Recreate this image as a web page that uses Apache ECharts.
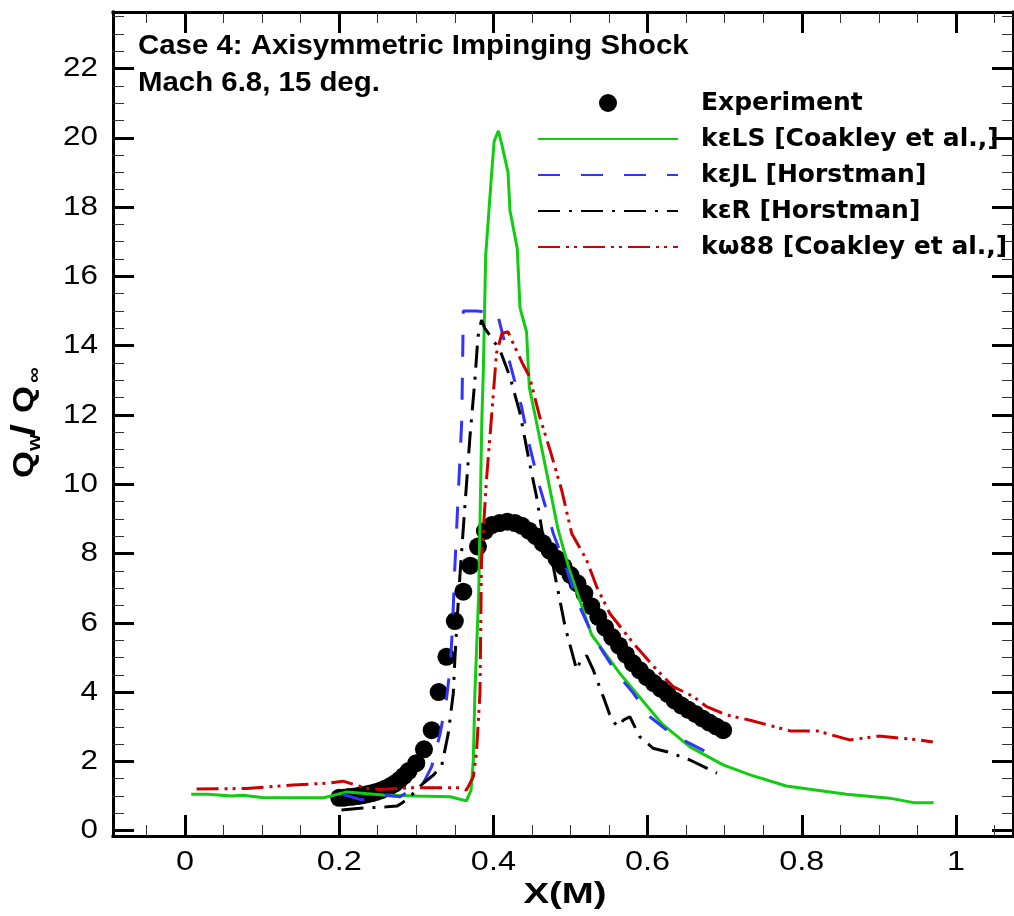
<!DOCTYPE html>
<html>
<head>
<meta charset="utf-8">
<script src="https://cdn.jsdelivr.net/npm/echarts@6/dist/echarts.min.js"></script>
<style>
  html, body { margin: 0; padding: 0; background: #fff; }
  #chart { width: 1014px; height: 916px; }
</style>
</head>
<body>
<div id="chart"></div>
<script>
// Axis ticks and labels
const xMajorTicks = [0, 0.2, 0.4, 0.6, 0.8, 1];
const xTickLabels = ['0', '0.2', '0.4', '0.6', '0.8', '1'];
const xMinorTicks = [-0.05, 0.05, 0.1, 0.15, 0.25, 0.3, 0.35, 0.45, 0.5, 0.55, 0.65, 0.7, 0.75, 0.85, 0.9, 0.95, 1.05];
const yMajorTicks = [0, 2, 4, 6, 8, 10, 12, 14, 16, 18, 20, 22];
const yTickLabels = ['0', '2', '4', '6', '8', '10', '12', '14', '16', '18', '20', '22'];
const yMinorTicks = [0.5, 1, 1.5, 2.5, 3, 3.5, 4.5, 5, 5.5, 6.5, 7, 7.5, 8.5, 9, 9.5, 10.5, 11, 11.5,
  12.5, 13, 13.5, 14.5, 15, 15.5, 16.5, 17, 17.5, 18.5, 19, 19.5, 20.5, 21, 21.5, 22.5, 23, 23.5];

// Series names
const seriesNames = ['Experiment', 'kεLS [Coakley et al.,]', 'kεJL [Horstman]', 'kεR [Horstman]', 'kω88 [Coakley et al.,]'];

// Measured wall heat flux ratio, [x (m), Qw/Qinf]
const experiment = [
  [0.200, 0.95], [0.206, 0.95], [0.212, 0.97], [0.218, 0.98], [0.224, 1.00], [0.230, 1.02],
  [0.236, 1.05], [0.242, 1.08], [0.248, 1.12], [0.254, 1.16], [0.260, 1.22], [0.266, 1.28],
  [0.272, 1.36], [0.278, 1.46], [0.284, 1.58], [0.290, 1.72], [0.300, 1.95], [0.310, 2.35],
  [0.320, 2.90], [0.329, 4.00], [0.339, 5.02], [0.350, 6.05], [0.361, 6.90], [0.370, 7.65],
  [0.380, 8.20], [0.389, 8.65], [0.398, 8.82], [0.408, 8.88], [0.418, 8.92], [0.428, 8.88],
  [0.437, 8.80], [0.446, 8.66], [0.455, 8.50], [0.464, 8.30], [0.473, 8.08], [0.482, 7.85],
  [0.491, 7.62], [0.500, 7.38], [0.509, 7.14], [0.518, 6.85], [0.527, 6.48], [0.536, 6.17],
  [0.545, 5.86], [0.554, 5.59], [0.563, 5.34], [0.572, 5.08], [0.581, 4.83], [0.590, 4.63],
  [0.599, 4.43], [0.608, 4.26], [0.617, 4.10], [0.626, 3.95], [0.635, 3.76], [0.644, 3.61],
  [0.653, 3.49], [0.662, 3.37], [0.671, 3.24], [0.680, 3.12], [0.689, 3.01], [0.698, 2.90]
];

// k-epsilon Lam-Bremhorst model
const kepsLS = [
  [0.008, 1.05], [0.030, 1.05], [0.060, 1.00], [0.075, 1.02], [0.100, 0.96], [0.150, 0.95],
  [0.180, 0.95], [0.210, 1.12], [0.257, 1.03], [0.300, 1.00], [0.344, 0.98], [0.365, 0.86],
  [0.371, 1.17], [0.374, 2.05], [0.376, 3.97], [0.381, 6.85], [0.385, 11.85], [0.387, 13.30],
  [0.390, 16.60], [0.3975, 18.90], [0.401, 19.90], [0.4065, 20.20], [0.411, 19.80], [0.419, 19.00],
  [0.4215, 17.90], [0.431, 16.80], [0.4345, 15.10], [0.443, 14.40], [0.4466, 12.80], [0.458, 11.56],
  [0.471, 10.12], [0.484, 8.68], [0.499, 7.50], [0.5275, 5.65], [0.564, 4.54], [0.618, 3.10],
  [0.655, 2.42], [0.698, 1.90], [0.733, 1.61], [0.780, 1.29], [0.858, 1.05], [0.914, 0.94],
  [0.945, 0.81], [0.971, 0.81]
];

// k-epsilon Jones-Launder model
const kepsJL = [
  [0.205, 1.05], [0.229, 0.89], [0.257, 1.03], [0.279, 0.98], [0.292, 1.17], [0.309, 1.37],
  [0.320, 1.85], [0.331, 2.81], [0.339, 3.77], [0.344, 4.73], [0.347, 5.90], [0.350, 7.60],
  [0.3545, 9.74], [0.359, 11.85], [0.3605, 14.20], [0.361, 15.00], [0.378, 15.00], [0.405, 14.95],
  [0.419, 13.70], [0.4365, 12.24], [0.447, 11.10], [0.460, 9.93], [0.4777, 8.58], [0.495, 7.55],
  [0.508, 6.66], [0.5295, 5.60], [0.560, 4.54], [0.5815, 3.97], [0.603, 3.29], [0.625, 2.90],
  [0.646, 2.62], [0.692, 2.09]
];

// k-epsilon with rapid-compression correction
const kepsR = [
  [0.203, 0.60], [0.227, 0.65], [0.262, 0.69], [0.275, 0.71], [0.281, 0.79], [0.294, 1.03],
  [0.309, 1.37], [0.322, 1.60], [0.333, 1.88], [0.3415, 2.81], [0.348, 3.97], [0.350, 4.93],
  [0.3524, 5.89], [0.357, 7.50], [0.363, 9.35], [0.3696, 11.37], [0.376, 13.00], [0.380, 14.26],
  [0.3846, 14.74], [0.389, 14.50], [0.4086, 13.87], [0.4215, 13.10], [0.4345, 12.05], [0.447, 10.60],
  [0.456, 9.64], [0.465, 8.39], [0.4777, 7.62], [0.493, 5.89], [0.508, 4.64], [0.5145, 4.98],
  [0.521, 5.05], [0.5295, 4.64], [0.5425, 3.87], [0.5535, 3.19], [0.562, 3.00], [0.5685, 3.19],
  [0.577, 3.29], [0.590, 2.71], [0.607, 2.38], [0.625, 2.28], [0.638, 2.18], [0.655, 2.04],
  [0.690, 1.66]
];

// k-omega 1988 model
const komega88 = [
  [0.015, 1.20], [0.080, 1.22], [0.140, 1.32], [0.184, 1.37], [0.205, 1.43], [0.236, 1.22],
  [0.253, 1.19], [0.292, 1.24], [0.357, 1.24], [0.365, 1.17], [0.374, 1.56], [0.378, 2.23],
  [0.3826, 3.97], [0.3846, 7.81], [0.391, 10.12], [0.398, 12.05], [0.404, 13.78], [0.411, 14.35],
  [0.419, 14.40], [0.4256, 14.07], [0.4388, 13.44], [0.447, 13.10], [0.460, 11.95], [0.4734, 10.99],
  [0.4886, 9.83], [0.5016, 8.58], [0.521, 7.81], [0.534, 7.04], [0.551, 6.27], [0.5815, 5.41],
  [0.612, 4.64], [0.633, 4.16], [0.6595, 3.87], [0.6766, 3.58], [0.7026, 3.34], [0.733, 3.19],
  [0.785, 2.88], [0.820, 2.88], [0.862, 2.62], [0.900, 2.73], [0.953, 2.62], [0.970, 2.56]
];

const FONT = '"Liberation Sans", Arial, Helvetica, sans-serif';
const LEGEND_FONT = '"DejaVu Sans", "Liberation Sans", sans-serif';
const X_RANGE = [-0.0934, 1.074];
const Y_RANGE = [-0.153, 23.63];

function makeAxis(dim, position, ticks, major) {
  const range = dim === 'x' ? X_RANGE : Y_RANGE;
  return {
    type: 'value',
    position: position,
    min: range[0],
    max: range[1],
    splitLine: { show: false },
    axisLine: { show: major, onZero: false, lineStyle: { color: '#000', width: 3, cap: 'square' } },
    axisTick: {
      show: true,
      inside: true,
      customValues: ticks,
      length: major ? 21 : 11,
      lineStyle: { color: major ? '#000' : '#333', width: major ? 3 : 1 }
    },
    axisLabel: { show: false }
  };
}

const chart = echarts.init(document.getElementById('chart'), null, { renderer: 'canvas' });

const lineBase = { type: 'line', symbol: 'none', showSymbol: false, smooth: false, z: 3 };

// Legend entries: lines show only their stroke, the experiment shows a dot
const legendItems = seriesNames.map(function (name, i) {
  return i === 0 ? { name: name } : { name: name, itemStyle: { opacity: 0 } };
});

chart.setOption({
  animation: false,
  backgroundColor: '#fff',
  grid: { left: 113, right: 1, top: 12, bottom: 80, containLabel: false },
  xAxis: [
    makeAxis('x', 'bottom', xMajorTicks, true),
    makeAxis('x', 'bottom', xMinorTicks, false),
    makeAxis('x', 'top', xMajorTicks, true),
    makeAxis('x', 'top', xMinorTicks, false)
  ],
  yAxis: [
    makeAxis('y', 'left', yMajorTicks, true),
    makeAxis('y', 'left', yMinorTicks, false),
    makeAxis('y', 'right', yMajorTicks, true),
    makeAxis('y', 'right', yMinorTicks, false)
  ],
  legend: {
    orient: 'vertical',
    left: 537,
    top: 90,
    padding: 0,
    itemWidth: 140,
    itemHeight: 18,
    itemGap: 10,
    data: legendItems,
    textStyle: {
      fontFamily: LEGEND_FONT,
      fontWeight: 'bold',
      fontSize: 25,
      lineHeight: 26,
      color: '#000',
      padding: [0, 0, 0, 18]
    }
  },
  series: [
    {
      name: seriesNames[0],
      type: 'scatter',
      data: experiment,
      symbol: 'circle',
      symbolSize: 18,
      itemStyle: { color: '#000', opacity: 1 },
      z: 2
    },
    Object.assign({}, lineBase, {
      name: seriesNames[1],
      data: kepsLS,
      itemStyle: { color: '#11cc11' },
      lineStyle: { color: '#11cc11', width: 3, type: 'solid' }
    }),
    Object.assign({}, lineBase, {
      name: seriesNames[2],
      data: kepsJL,
      itemStyle: { color: '#3333ff' },
      lineStyle: { color: '#3333ff', width: 3, type: [22, 21] }
    }),
    Object.assign({}, lineBase, {
      name: seriesNames[3],
      data: kepsR,
      itemStyle: { color: '#000' },
      lineStyle: { color: '#000', width: 3, type: [22, 9, 3, 9] }
    }),
    Object.assign({}, lineBase, {
      name: seriesNames[4],
      data: komega88,
      itemStyle: { color: '#cc0000' },
      lineStyle: { color: '#cc0000', width: 3, type: [22, 6, 3, 5, 3, 6] }
    })
  ]
});

// Texts: tick labels are placed through the axis scales, drawn in a wide face
const texts = [];
xMajorTicks.forEach(function (v, i) {
  texts.push({
    type: 'text',
    x: chart.convertToPixel({ xAxisIndex: 0 }, v),
    y: 863,
    scaleX: 1.2,
    style: { text: xTickLabels[i], font: '27px ' + FONT, fill: '#000', align: 'center', verticalAlign: 'middle' }
  });
});
yMajorTicks.forEach(function (v, i) {
  texts.push({
    type: 'text',
    x: 98,
    y: chart.convertToPixel({ yAxisIndex: 0 }, v),
    scaleX: 1.12,
    style: { text: yTickLabels[i], font: '28px ' + FONT, fill: '#000', align: 'right', verticalAlign: 'middle' }
  });
});
texts.push(
  {
    type: 'text',
    x: 138,
    y: 28,
    scaleX: 1.05,
    style: {
      text: 'Case 4: Axisymmetric Impinging Shock\nMach 6.8, 15 deg.',
      font: 'bold 28px ' + FONT,
      lineHeight: 37,
      fill: '#000'
    }
  },
  {
    type: 'text',
    x: 565,
    y: 895,
    scaleX: 1.28,
    style: { text: 'X(M)', font: 'bold 30px ' + FONT, fill: '#000', align: 'center', verticalAlign: 'middle' }
  },
  {
    // vertical axis title, reads bottom to top
    type: 'group',
    x: 25,
    y: 478,
    rotation: Math.PI / 2,
    children: [
      { type: 'text', x: 0, y: 0, scaleX: 1.15, style: { text: 'Q', font: 'bold 30px ' + FONT, fill: '#000', verticalAlign: 'middle' } },
      { type: 'text', x: 27, y: 10, scaleX: 1.15, style: { text: 'w', font: 'bold 19px ' + FONT, fill: '#000', verticalAlign: 'middle' } },
      { type: 'text', x: 42, y: 0, scaleX: 1.3, style: { text: '/', font: 'bold 33px ' + FONT, fill: '#000', verticalAlign: 'middle' } },
      { type: 'text', x: 65, y: 0, scaleX: 1.15, style: { text: 'Q', font: 'bold 30px ' + FONT, fill: '#000', verticalAlign: 'middle' } },
      { type: 'text', x: 95, y: 10, scaleX: 1.15, style: { text: '∞', font: 'bold 19px ' + FONT, fill: '#000', verticalAlign: 'middle' } }
    ]
  }
);
chart.setOption({ graphic: texts });
</script>
</body>
</html>
